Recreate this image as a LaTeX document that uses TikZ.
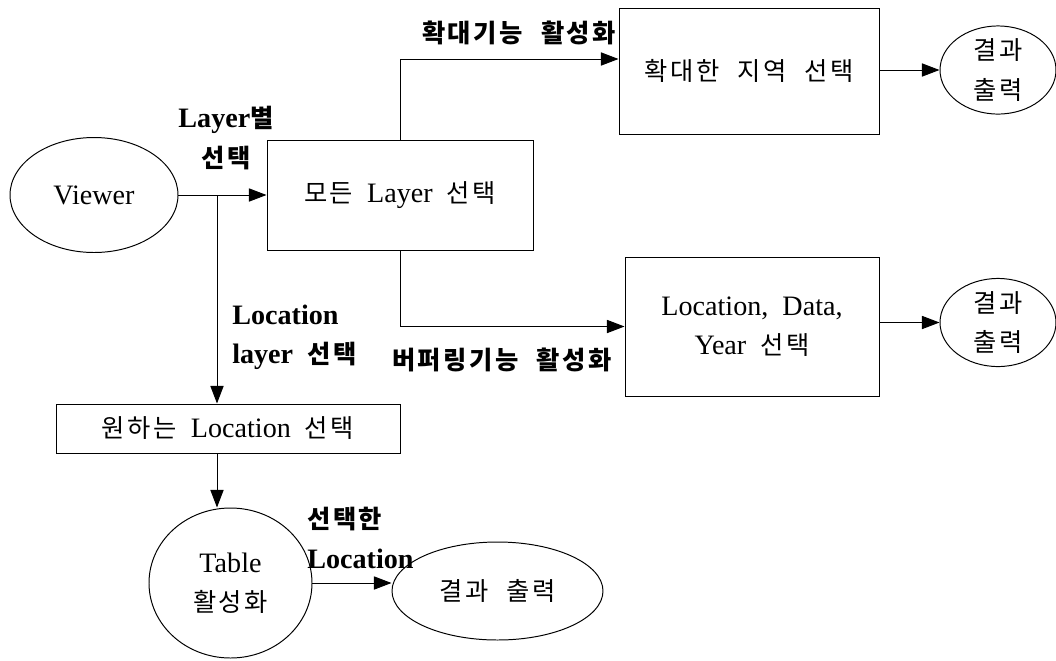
\documentclass[tikz,border=0pt]{standalone}
\usepackage{fontspec}
\setmainfont{Liberation Serif}[WordSpace=2]
\newfontfamily\kr{Noto Sans CJK KR}[Scale=0.9,LetterSpace=10,WordSpace=2.2]
\usepackage{tikz}
\usetikzlibrary{arrows.meta,calc,positioning,shapes.geometric}

\begin{document}
\begin{tikzpicture}[
  every node/.style={font=\fontsize{20}{28}\selectfont,align=center},
  flow/.style={-{Triangle[length=4.4mm,width=3.3mm]},line width=0.7pt},
  procbox/.style={draw,rectangle,line width=0.7pt,inner sep=0pt},
  oval/.style={draw,ellipse,line width=0.7pt,inner sep=0pt},
  lbl/.style={font=\fontsize{20}{28}\selectfont\bfseries,inner sep=0pt}
]
  \useasboundingbox (0,0) rectangle (26.4,-16.5);

  \node[oval,minimum width=4.2cm,minimum height=2.875cm] (viewer) at (2.35,-4.875) {Viewer};
  \node[procbox,minimum width=6.65cm,minimum height=2.75cm] (all) at (10.0,-4.875)
    {{\kr 모든} Layer {\kr 선택}};
  \node[procbox,minimum width=6.5cm,minimum height=3.15cm] (zoom) at (18.725,-1.775)
    {{\kr 확대한 지역 선택}};
  \node[oval,minimum width=2.9cm,minimum height=2.175cm] (res1) at (24.95,-1.75)
    {{\kr 결과}\\{\kr 출력}};
  \node[procbox,minimum width=6.35cm,minimum height=3.475cm] (loc) at (18.8,-8.1625)
    {Location, Data,\\Year {\kr 선택}};
  \node[oval,minimum width=2.9cm,minimum height=2.125cm] (res2) at (24.95,-8.0625)
    {{\kr 결과}\\{\kr 출력}};
  \node[procbox,minimum width=8.6cm,minimum height=1.225cm] (want) at (5.7,-10.7125)
    {{\kr 원하는} Location {\kr 선택}};
  \node[oval,minimum width=4.075cm,minimum height=3.75cm] (table) at (5.7625,-14.575)
    {Table\\{\kr 활성화}};
  \node[oval,minimum width=5.275cm,minimum height=2.45cm] (res3) at (12.4375,-14.775)
    {{\kr 결과 출력}};

  \coordinate (split) at (5.425,-4.875);

  \node[lbl] (layerlbl) at (5.65,-3.45) {Layer{\kr 별}\\{\kr 선택}};
  \node[lbl] (zoomlbl) at (12.975,-0.825) {{\kr 확대기능 활성화}};
  \node[lbl,anchor=west,align=left] (loclbl) at (5.8,-8.4375) {Location\\layer {\kr 선택}};
  \node[lbl] (buflbl) at (12.55,-9.0) {{\kr 버퍼링기능 활성화}};
  \node[lbl,anchor=west,align=left] (sellbl) at (7.675,-13.45) {{\kr 선택한}\\Location};

  \draw[flow] (viewer.east) -- (viewer.east -| all.west);
  \draw[flow] (split) -- (split |- want.north);
  \draw[flow] (all.north) |- ([yshift=0.3cm]zoom.west);
  \draw[flow] (all.south) |- (loc.west);
  \draw[flow] (res1.west -| zoom.east) -- (res1.west);
  \draw[flow] (res2.west -| loc.east) -- (res2.west);
  \draw[flow] (split |- want.south) -- (split |- table.north);
  \draw[flow] (table.east) -- (table.east -| res3.west);
\end{tikzpicture}
\end{document}
